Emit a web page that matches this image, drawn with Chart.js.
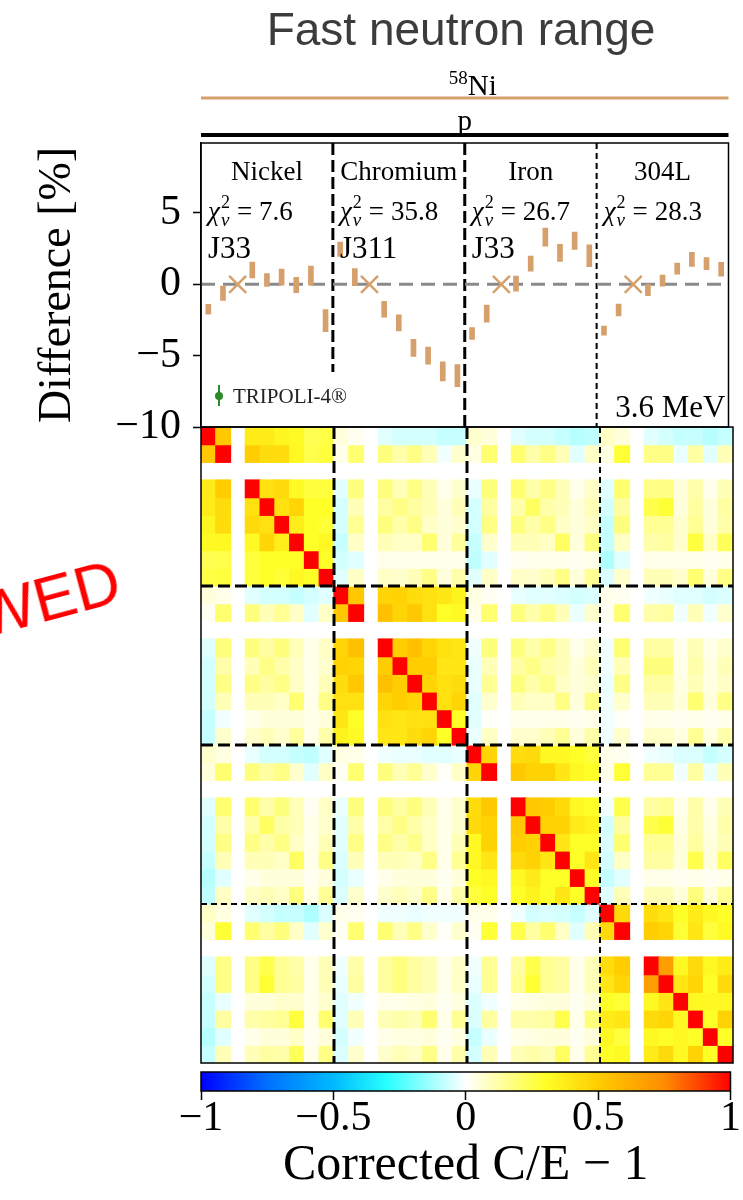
<!DOCTYPE html>
<html>
<head>
<meta charset="utf-8">
<script src="https://cdn.jsdelivr.net/npm/chart.js@4.4.1/dist/chart.umd.min.js"></script>
<style>
  html, body { margin: 0; padding: 0; background: #fff; }
  #page { position: relative; width: 743px; height: 1200px; overflow: hidden; background: #fff; }
  #page canvas { position: absolute; left: 0; top: 0; }
  #title { position: absolute; left: 161px; width: 600px; top: 6px; text-align: center;
           font: 46px/46px "Liberation Sans", Arial, sans-serif; color: #3c3c3c; }
  #stamp { position: absolute; left: -273px; width: 400px; top: 547px; text-align: right;
           font: 63px/63px "Liberation Sans", Arial, sans-serif; color: #ff0000; white-space: nowrap;
           transform-origin: 100% 100%; transform: rotate(-15deg); }
</style>
</head>
<body>
<div id="page">
  <canvas id="heat" width="743" height="1200"></canvas>
  <canvas id="diff" width="743" height="1200"></canvas>
  <canvas id="cbar" width="743" height="1200"></canvas>
  <div id="title">Fast neutron range</div>
  <div id="stamp">REVIEWED</div>
</div>
<script>
/* DATA */
const groups = ['Nickel', 'Chromium', 'Iron', '304L']
const chi2 = ['7.6', '35.8', '26.7', '28.3']
const libs = ['J33', 'J311', 'J33', '']
const energyLabel = '3.6 MeV'
const yTicks = [-10, -5, 0, 5]
const cbarTicks = [-1, -0.5, 0, 0.5, 1]

// C/E - 1 difference [%] per group, null = normalisation point (drawn as x at 0)
const diffNickel = [-1.75, -0.63, null, 1.0, 0.3, 0.5, -0.05, 0.6, -2.55]
const diffChromium = [2.45, 0.5, null, -1.75, -2.7, -4.45, -5.0, -6.1, -6.4]
const diffIron = [-3.45, -2.05, null, 0.05, 1.45, 3.3, 2.2, 3.05, 2.0]
const diff304L = [-3.25, -1.8, null, -0.4, 0.25, 1.1, 1.75, 1.45, 1.05]

const errNickel = [0.35, 0.5, null, 0.56, 0.45, 0.56, 0.53, 0.67, 0.77]
const errChromium = [0.5, 0.6, null, 0.56, 0.56, 0.6, 0.6, 0.67, 0.77]
const errIron = [0.42, 0.6, null, 0.53, 0.53, 0.63, 0.6, 0.6, 0.77]
const err304L = [0.32, 0.42, null, 0.39, 0.39, 0.39, 0.49, 0.42, 0.49]

// correlation matrix, lower triangle, rows grouped by material ([] = masked row)
const corrNickel = [
  [1],
  [0.52, 1],
  [],
  [0.38, 0.5, null, 1],
  [0.38, 0.44, null, 0.42, 1],
  [0.34, 0.44, null, 0.45, 0.42, 1],
  [0.32, 0.33, null, 0.32, 0.47, 0.37, 1],
  [0.24, 0.25, null, 0.27, 0.3, 0.3, 0.3, 1],
  [0.26, 0.27, null, 0.27, 0.3, 0.28, 0.33, 0.3, 1]
]
const corrChromium = [
  [0.05, 0.03, null, -0.04, -0.06, -0.06, -0.08, -0.06, -0.04, 1],
  [0.02, 0.2, null, 0.18, 0.1, 0.15, 0.08, -0.04, 0.08, 0.52, 1],
  [],
  [-0.04, 0.18, null, 0.18, 0.13, 0.18, 0.1, 0.03, 0.08, 0.47, 0.55, null, 1],
  [-0.06, 0.12, null, 0.1, 0.17, 0.12, 0.08, 0.03, 0.07, 0.48, 0.47, null, 0.5, 1],
  [-0.06, 0.17, null, 0.17, 0.13, 0.17, 0.08, 0.03, 0.1, 0.44, 0.52, null, 0.55, 0.5, 1],
  [-0.06, 0.1, null, 0.1, 0.1, 0.08, 0.2, 0.03, 0.17, 0.42, 0.42, null, 0.47, 0.5, 0.47, 1],
  [-0.08, -0.02, null, 0.03, 0.05, 0.05, 0.05, 0.03, 0.05, 0.4, 0.3, null, 0.42, 0.4, 0.42, 0.42, 1],
  [-0.08, 0.07, null, 0.07, 0.1, 0.07, 0.14, 0.03, 0.12, 0.35, 0.32, null, 0.4, 0.4, 0.44, 0.47, 0.3, 1]
]
const corrIron = [
  [0.07, 0.04, null, -0.03, -0.06, -0.06, -0.08, -0.09, -0.04, 0.04, 0.03, null, -0.02, -0.03, -0.03, -0.04, -0.04, -0.03, 1],
  [0.05, 0.2, null, 0.18, 0.13, 0.17, 0.07, -0.04, 0.08, 0.02, 0.2, null, 0.18, 0.1, 0.15, 0.07, 0.01, 0.08, 0.47, 1],
  [],
  [-0.04, 0.2, null, 0.2, 0.12, 0.18, 0.1, 0.02, 0.08, -0.03, 0.18, null, 0.18, 0.13, 0.18, 0.1, 0.03, 0.07, 0.44, 0.52, null, 1],
  [-0.06, 0.12, null, 0.12, 0.22, 0.12, 0.1, 0.03, 0.07, -0.04, 0.12, null, 0.12, 0.17, 0.12, 0.08, 0.03, 0.07, 0.45, 0.48, null, 0.52, 1],
  [-0.06, 0.17, null, 0.17, 0.12, 0.17, 0.08, 0.03, 0.1, -0.04, 0.17, null, 0.17, 0.12, 0.16, 0.08, 0.03, 0.1, 0.33, 0.48, null, 0.5, 0.48, 1],
  [-0.08, 0.1, null, 0.1, 0.1, 0.08, 0.22, 0.03, 0.17, -0.05, 0.1, null, 0.1, 0.1, 0.08, 0.17, 0.03, 0.15, 0.33, 0.4, null, 0.45, 0.48, 0.4, 1],
  [-0.1, -0.04, null, 0.03, 0.05, 0.05, 0.05, 0.02, 0.05, -0.06, -0.03, null, 0.03, 0.05, 0.05, 0.05, 0.02, 0.05, 0.3, 0.33, null, 0.33, 0.38, 0.3, 0.3, 1],
  [-0.09, 0.08, null, 0.08, 0.1, 0.08, 0.18, 0.03, 0.15, -0.05, 0.07, null, 0.07, 0.1, 0.07, 0.17, 0.03, 0.12, 0.27, 0.3, null, 0.3, 0.35, 0.3, 0.4, 0.3, 1]
]
const corr304L = [
  [0.08, 0.04, null, -0.04, -0.06, -0.08, -0.08, -0.11, -0.05, 0.03, 0.02, null, -0.02, -0.02, -0.03, -0.02, -0.02, -0.02, 0.03, 0.03, null, -0.02, -0.06, -0.05, -0.06, -0.08, -0.04, 1],
  [0.05, 0.28, null, 0.2, 0.13, 0.18, 0.08, -0.04, 0.07, 0.02, 0.2, null, 0.2, 0.1, 0.17, 0.07, 0.01, 0.07, 0.02, 0.28, null, 0.25, 0.13, 0.2, 0.08, -0.04, 0.1, 0.45, 1],
  [],
  [-0.04, 0.17, null, 0.17, 0.25, 0.15, 0.12, 0.03, 0.1, -0.02, 0.12, null, 0.13, 0.18, 0.13, 0.1, 0.03, 0.08, -0.02, 0.15, null, 0.13, 0.25, 0.15, 0.13, 0.03, 0.1, 0.44, 0.5, null, 1],
  [-0.06, 0.17, null, 0.17, 0.28, 0.15, 0.13, 0.03, 0.1, -0.03, 0.13, null, 0.13, 0.18, 0.13, 0.1, 0.03, 0.08, -0.03, 0.15, null, 0.15, 0.28, 0.15, 0.13, 0.03, 0.1, 0.4, 0.47, null, 0.68, 1],
  [-0.08, -0.03, null, 0.05, 0.05, 0.07, 0.07, 0.03, 0.07, -0.04, -0.02, null, 0.03, 0.03, 0.04, 0.05, 0.02, 0.04, -0.05, -0.02, null, 0.03, 0.04, 0.05, 0.05, 0.02, 0.05, 0.3, 0.28, null, 0.33, 0.4, 1],
  [-0.08, 0.13, null, 0.12, 0.13, 0.15, 0.27, 0.03, 0.2, -0.04, 0.1, null, 0.1, 0.12, 0.1, 0.2, 0.03, 0.15, -0.05, 0.13, null, 0.12, 0.12, 0.13, 0.25, 0.03, 0.18, 0.38, 0.4, null, 0.45, 0.47, 0.33, 1],
  [-0.1, -0.04, null, 0.03, 0.05, 0.05, 0.08, 0.02, 0.05, -0.06, -0.02, null, 0.03, 0.04, 0.04, 0.05, 0.02, 0.04, -0.08, -0.03, null, 0.03, 0.04, 0.05, 0.05, 0.02, 0.05, 0.33, 0.27, null, 0.33, 0.3, 0.33, 0.3, 1],
  [-0.08, 0.1, null, 0.1, 0.13, 0.12, 0.23, 0.03, 0.17, -0.05, 0.07, null, 0.07, 0.1, 0.08, 0.17, 0.03, 0.12, -0.06, 0.1, null, 0.1, 0.12, 0.1, 0.22, 0.03, 0.15, 0.3, 0.32, null, 0.38, 0.45, 0.33, 0.48, 0.3, 1]
]

/* STYLE */
const SERIF = '"Liberation Serif", "DejaVu Serif", serif'
const TAN = '#d6a06c'
const cmapStops = [
  [-1.0, [0, 0, 255]],
  [-0.75, [0, 112, 255]],
  [-0.5, [0, 185, 255]],
  [-0.3, [40, 255, 255]],
  [0.0, [255, 255, 255]],
  [0.3, [255, 255, 40]],
  [0.5, [255, 205, 0]],
  [0.75, [255, 140, 0]],
  [1.0, [255, 0, 0]]
]

function cmap(v) {
  for (let i = 1; i < cmapStops.length; i++) {
    const [v1, c1] = cmapStops[i]
    const [v0, c0] = cmapStops[i - 1]
    if (v <= v1) {
      const t = (v - v0) / (v1 - v0)
      const c = c0.map((a, k) => Math.round(a + (c1[k] - a) * t))
      return `rgb(${c[0]},${c[1]},${c[2]})`
    }
  }
  return 'rgb(255,0,0)'
}

const minus = v => v < 0 ? '\u2212' + Math.abs(v) : String(v)

/*TOP PANEL*/
const diffs = [diffNickel, diffChromium, diffIron, diff304L]
const errs = [errNickel, errChromium, errIron, err304L]
const perGroup = diffNickel.length
const nCells = perGroup * groups.length

const errorBars = []
const refMarks = []
diffs.forEach((d, g) => {
  d.forEach((v, k) => {
    const x = g * perGroup + k + 0.5
    if (v === null) refMarks.push({x: x, y: 0})
    else errorBars.push({x: x, y: [v - errs[g][k], v + errs[g][k]]})
  })
})

function dashedLine(ctx, x0, y0, x1, y1, thick) {
  ctx.save()
  ctx.strokeStyle = '#000'
  ctx.lineWidth = thick ? 3 : 2
  ctx.setLineDash(thick ? [12, 5] : [6, 4])
  ctx.beginPath()
  ctx.moveTo(x0, y0)
  ctx.lineTo(x1, y1)
  ctx.stroke()
  ctx.restore()
}

function drawSegments(ctx, x, y, segs) {
  let cx = x
  for (const s of segs) {
    ctx.font = s.font
    ctx.fillText(s.text, cx, y + (s.dy || 0))
    let w = ctx.measureText(s.text).width
    if (s.sub) {
      ctx.font = s.sub.font
      ctx.fillText(s.sub.text, cx, y + s.sub.dy)
      w = Math.max(w, ctx.measureText(s.sub.text).width)
    }
    cx += w + (s.gap || 0)
  }
}

const topPanelPlugin = {
  id: 'topPanel',
  beforeDatasetsDraw(chart) {
    const {ctx, chartArea: a, scales: {x}} = chart
    for (let g = 1; g < groups.length; g++) {
      const px = x.getPixelForValue(g * perGroup)
      dashedLine(ctx, px, a.top, px, a.bottom, g < 3)
    }
  },
  afterDatasetsDraw(chart) {
    const {ctx, chartArea: a, scales: {x}} = chart
    ctx.save()
    ctx.fillStyle = '#000'
    ctx.textBaseline = 'alphabetic'

    // header lines
    const mid = (a.left + a.right) / 2
    ctx.fillStyle = TAN
    ctx.fillRect(a.left, 96.5, a.right - a.left, 3)
    ctx.fillStyle = '#000'
    ctx.font = `29px ${SERIF}`
    ctx.textAlign = 'left'
    ctx.fillText('Ni', mid + 3, 95)
    ctx.font = `19px ${SERIF}`
    ctx.textAlign = 'right'
    ctx.fillText('58', mid + 3, 84)
    ctx.textAlign = 'center'
    ctx.font = `29px ${SERIF}`
    ctx.fillText('p', mid, 130)
    ctx.fillRect(a.left, 133, a.right - a.left, 4)

    // group texts
    ctx.textAlign = 'center'
    ctx.font = `27px ${SERIF}`
    groups.forEach((name, g) => {
      ctx.fillText(name, x.getPixelForValue(g * perGroup + perGroup / 2), 180)
    })
    ctx.textAlign = 'left'
    groups.forEach((name, g) => {
      const x0 = x.getPixelForValue(g * perGroup) + 7
      drawSegments(ctx, x0, 220, [
        {text: '\u03c7', font: `italic 27px ${SERIF}`, gap: 1},
        {text: '2', font: `18px ${SERIF}`, dy: -12, sub: {text: '\u03bd', font: `italic 19px ${SERIF}`, dy: 6}, gap: 7},
        {text: '=', font: `27px ${SERIF}`, gap: 7},
        {text: chi2[g], font: `27px ${SERIF}`}
      ])
      if (libs[g]) {
        ctx.font = `31px ${SERIF}`
        ctx.fillText(libs[g], x0, 258)
      }
    })

    // legend box
    ctx.fillStyle = '#fff'
    ctx.fillRect(a.left + 1, 372, 158, a.bottom - 372 - 1)
    ctx.strokeStyle = '#2a8a2a'
    ctx.fillStyle = '#2a8a2a'
    ctx.lineWidth = 2
    ctx.beginPath()
    ctx.moveTo(a.left + 18, 385)
    ctx.lineTo(a.left + 18, 406)
    ctx.stroke()
    ctx.beginPath()
    ctx.arc(a.left + 18, 396, 4, 0, Math.PI * 2)
    ctx.fill()
    ctx.fillStyle = '#222'
    ctx.font = `21px ${SERIF}`
    ctx.fillText('TRIPOLI-4\u00ae', a.left + 32, 403)

    // energy
    ctx.fillStyle = '#000'
    ctx.textAlign = 'right'
    ctx.font = `31px ${SERIF}`
    ctx.fillText(energyLabel, a.right - 3, 417)

    // frame
    ctx.lineWidth = 1.5
    ctx.strokeStyle = '#000'
    ctx.strokeRect(a.left, a.top, a.right - a.left, a.bottom - a.top)
    ctx.restore()
  }
}

new Chart(document.getElementById('diff'), {
  type: 'bar',
  data: {
    datasets: [
      {
        type: 'bar',
        data: errorBars,
        backgroundColor: TAN,
        borderWidth: 0,
        barThickness: 5,
        order: 0
      },
      {
        type: 'scatter',
        data: refMarks,
        pointStyle: 'crossRot',
        pointRadius: 12,
        borderColor: TAN,
        borderWidth: 2.5,
        order: 1
      },
      {
        type: 'line',
        data: [{x: 0, y: 0}, {x: nCells, y: 0}],
        borderColor: '#8a8a8a',
        borderWidth: 3,
        borderDash: [14, 8],
        pointRadius: 0,
        order: 2
      }
    ]
  },
  options: {
    responsive: false,
    animation: false,
    events: [],
    layout: {padding: {top: 143, right: 10, bottom: 773, left: 0}},
    plugins: {legend: {display: false}, tooltip: {enabled: false}},
    scales: {
      x: {type: 'linear', min: 0, max: nCells, offset: false, display: false},
      y: {
        min: -10,
        max: 9.9,
        afterBuildTicks: s => { s.ticks = yTicks.map(v => ({value: v})) },
        afterFit: s => { s.width = 201 },
        ticks: {
          color: '#000',
          padding: 12,
          font: {family: SERIF, size: 42},
          callback: v => minus(v)
        },
        grid: {drawOnChartArea: false, tickLength: 8, tickWidth: 1.5, tickColor: '#000'},
        border: {display: true, color: '#000', width: 1.5},
        title: {
          display: true,
          text: 'Difference [%]',
          color: '#000',
          font: {family: SERIF, size: 46},
          padding: {top: 30}
        }
      }
    }
  },
  plugins: [topPanelPlugin]
})

/*HEATMAP*/
const corrRows = [...corrNickel, ...corrChromium, ...corrIron, ...corr304L]
const cellIndex = corrRows.map((_, i) => i)

function corrAt(i, j) {
  const v = corrRows[Math.max(i, j)][Math.min(i, j)]
  return v === undefined ? null : v
}

const heatDatasets = cellIndex.map(r => {
  const vals = cellIndex.map(c => corrAt(r, c))
  return {
    data: vals.map(v => v === null ? null : [r, r + 1]),
    backgroundColor: vals.map(v => v === null ? 'rgba(0,0,0,0)' : cmap(v)),
    borderWidth: 0,
    inflateAmount: 0.6,
    grouped: false,
    barPercentage: 1,
    categoryPercentage: 1
  }
})

const heatLinesPlugin = {
  id: 'heatLines',
  afterDatasetsDraw(chart) {
    const {ctx, chartArea: a, scales: {x, y}} = chart
    for (let g = 1; g < groups.length; g++) {
      const px = x.getPixelForValue(g * perGroup - 0.5)
      const py = y.getPixelForValue(g * perGroup)
      dashedLine(ctx, px, a.top, px, a.bottom, g < 3)
      dashedLine(ctx, a.left, py, a.right, py, g < 3)
    }
    ctx.save()
    ctx.lineWidth = 1.5
    ctx.strokeStyle = '#000'
    ctx.strokeRect(a.left, a.top, a.right - a.left, a.bottom - a.top)
    ctx.restore()
  }
}

new Chart(document.getElementById('heat'), {
  type: 'bar',
  data: {labels: cellIndex, datasets: heatDatasets},
  options: {
    responsive: false,
    animation: false,
    events: [],
    layout: {padding: {top: 427, right: 10, bottom: 137, left: 201}},
    plugins: {legend: {display: false}, tooltip: {enabled: false}},
    scales: {
      x: {display: false},
      y: {display: false, min: 0, max: nCells, reverse: true}
    }
  },
  plugins: [heatLinesPlugin]
})

/*COLORBAR*/
const cbarFramePlugin = {
  id: 'cbarFrame',
  afterDatasetsDraw(chart) {
    const {ctx, chartArea: a} = chart
    ctx.save()
    ctx.lineWidth = 1.5
    ctx.strokeStyle = '#000'
    ctx.strokeRect(a.left, a.top, a.right - a.left, a.bottom - a.top)
    ctx.restore()
  }
}

new Chart(document.getElementById('cbar'), {
  type: 'bar',
  data: {
    labels: [''],
    datasets: [{
      data: [[cbarTicks[0], cbarTicks[cbarTicks.length - 1]]],
      backgroundColor: c => {
        const a = c.chart.chartArea
        if (!a) return '#fff'
        const grad = c.chart.ctx.createLinearGradient(a.left, 0, a.right, 0)
        cmapStops.forEach(([v, col]) => grad.addColorStop((v + 1) / 2, `rgb(${col.join(',')})`))
        return grad
      },
      borderWidth: 0,
      barPercentage: 1,
      categoryPercentage: 1
    }]
  },
  options: {
    indexAxis: 'y',
    responsive: false,
    animation: false,
    events: [],
    layout: {padding: {top: 1072, right: 10, bottom: 0, left: 201}},
    plugins: {legend: {display: false}, tooltip: {enabled: false}},
    scales: {
      y: {display: false},
      x: {
        type: 'linear',
        min: -1,
        max: 1,
        afterBuildTicks: s => { s.ticks = cbarTicks.map(v => ({value: v})) },
        afterFit: s => { s.height = 109 },
        ticks: {
          color: '#000',
          padding: 2,
          font: {family: SERIF, size: 42, lineHeight: 0.8},
          callback: v => minus(v)
        },
        grid: {drawOnChartArea: false, tickLength: 9, tickWidth: 1.5, tickColor: '#000'},
        border: {display: false},
        title: {
          display: true,
          text: 'Corrected C/E \u2212 1',
          color: '#000',
          font: {family: SERIF, size: 50},
          padding: {bottom: 4}
        }
      }
    }
  },
  plugins: [cbarFramePlugin]
})
</script>
</body>
</html>
